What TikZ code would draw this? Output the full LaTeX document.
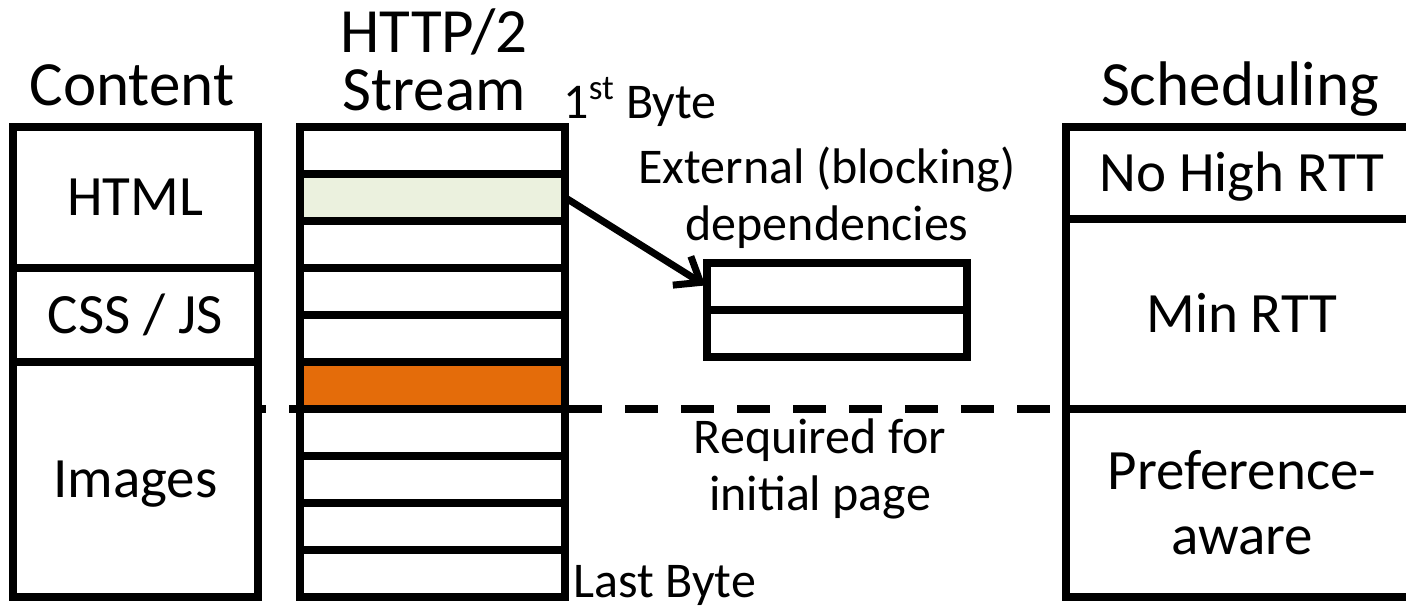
\documentclass[tikz,border=0pt]{standalone}
\usepackage{fontspec}
\setmainfont{Carlito}
\usetikzlibrary{arrows.meta}
\definecolor{htmlgreen}{HTML}{EBF1DE}
\definecolor{blockorange}{HTML}{E46C0A}
\newcommand\headfont{\fontsize{31.5}{29}\selectfont}
\newcommand\cellfont{\fontsize{28.5}{32.5}\selectfont}
\newcommand\notefont{\fontsize{25}{28.5}\selectfont}

\begin{document}
\begin{tikzpicture}[x=0.5pt, y=-0.5pt,
  cell/.style={draw, line width=4pt, fill=white, inner sep=0pt, outer sep=0pt,
               align=center, font=\cellfont},
  oneline/.style={text height=18.4pt, text depth=0pt},
  head/.style={inner sep=0pt, align=center, font=\headfont},
  note/.style={inner sep=0pt, align=center, font=\notefont},
  dashline/.style={line width=4pt, dash pattern=on 16.5pt off 11.5pt, dash phase=12.5pt},
  deparrow/.style={line width=3.5pt, -{Straight Barb[length=11pt,width=17pt]}, shorten >=1pt}]

\useasboundingbox (0,0) rectangle (1406,607);
\clip (0,0) rectangle (1406,607);

% column headers (multi-line nodes are placed by their last baseline)
\node[head, anchor=base] (contenthd) at (132,105) {Content};
\node[head, anchor=base] (streamhd) at (434,110) {HTTP/2\\Stream};
\node[head, anchor=base] (schedhd) at (1240,105) {Scheduling};

% content types
\node[cell, oneline, minimum width=122.75pt, minimum height=70.5pt] (html) at (135.25,197.5) {HTML};
\node[cell, oneline, minimum width=122.75pt, minimum height=47pt] (css) at (135.25,315) {CSS / JS};
\node[cell, oneline, minimum width=122.75pt, minimum height=117.5pt] (img) at (135.25,479.5) {Images};

% HTTP/2 stream frames
\foreach \k/\c in {0/white,1/htmlgreen,2/white,3/white,4/white,5/blockorange,6/white,7/white,8/white,9/white}
  \node[cell, fill=\c, minimum width=132.5pt, minimum height=23.5pt] (s\k) at (432.5,{150.5+47*\k}) {};

\node[note, anchor=base west] (firstbyte) at (563,118) {1\textsuperscript{st} Byte};
\node[note, anchor=base west] (lastbyte) at (573,597) {Last Byte};

% external dependencies
\node[note, anchor=base] (extlbl) at (827,240) {External (blocking)\\dependencies};
\node[cell, minimum width=130pt, minimum height=23.5pt] (ext1) at (837,286.5) {};
\node[cell, minimum width=130pt, minimum height=23.5pt] (ext2) at (837,333.5) {};
\draw[deparrow] (s1.east) -- (ext1.west);

% scheduling policies
\node[cell, oneline, minimum width=176pt, minimum height=46pt] (nohigh) at (1242,173) {No High RTT};
\node[cell, oneline, minimum width=176pt, minimum height=95pt] (minrtt) at (1242,314) {Min RTT};
\node[cell, minimum width=176pt, minimum height=94pt] (pref) at (1242,503) {Preference-\\aware};

% initial page boundary
\draw[dashline] (img.east |- s5.south) -- (pref.north west);
\node[note, anchor=base] (reqlbl) at (820,510) {Required for\\initial page};

\end{tikzpicture}
\end{document}
